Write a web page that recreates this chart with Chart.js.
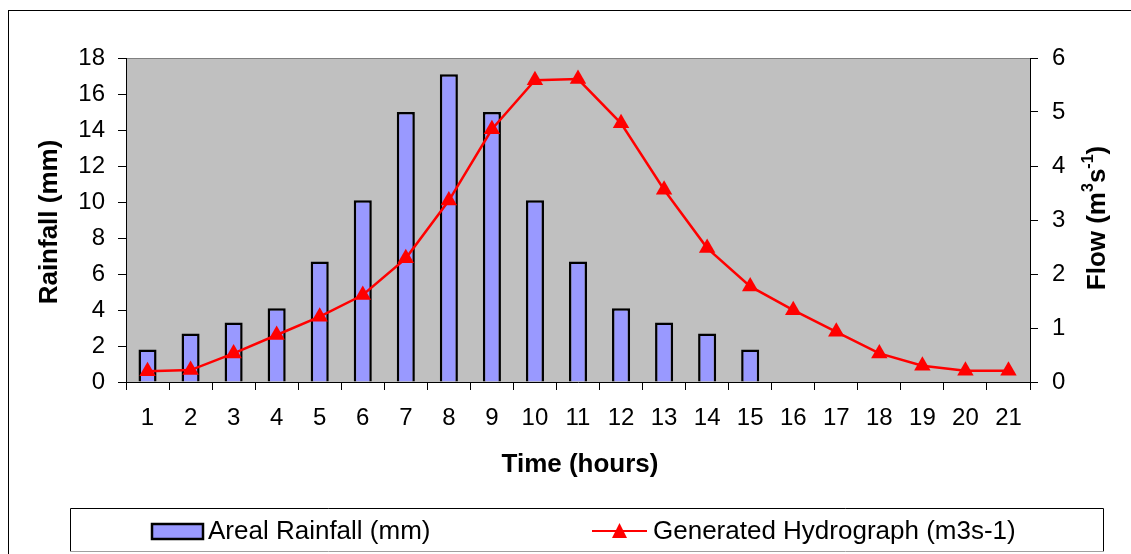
<!DOCTYPE html>
<html>
<head>
<meta charset="utf-8">
<script src="https://cdn.jsdelivr.net/npm/chart.js@4.4.1/dist/chart.umd.min.js"></script>
<style>
  html, body { margin: 0; padding: 0; background: #ffffff; }
  #wrap { width: 1131px; height: 554px; }
</style>
</head>
<body>
<div id="wrap"><canvas id="hydroChart" width="1131" height="554"></canvas></div>
<script>
// data
const hours = ["1","2","3","4","5","6","7","8","9","10","11","12","13","14","15","16","17","18","19","20","21"];
const rainfall = [1.8, 2.7, 3.3, 4.1, 6.7, 10.1, 15, 17.1, 15, 10.1, 6.7, 4.1, 3.3, 2.7, 1.8, null, null, null, null, null, null];
const flow = [0.2, 0.22, 0.53, 0.87, 1.21, 1.61, 2.29, 3.36, 4.68, 5.59, 5.61, 4.79, 3.56, 2.48, 1.77, 1.33, 0.93, 0.53, 0.3, 0.21, 0.21];
const rainTicks = [0, 2, 4, 6, 8, 10, 12, 14, 16, 18];
const flowTicks = [0, 1, 2, 3, 4, 5, 6];

const FONT = "'Liberation Sans', Arial, sans-serif";

// background, frame, titles and legend
const decor = {
  id: "decor",
  beforeDraw(chart) {
    const { ctx, chartArea: a } = chart;
    ctx.save();
    ctx.fillStyle = "#ffffff";
    ctx.fillRect(0, 0, chart.width, chart.height);
    // outer frame
    ctx.strokeStyle = "#000000";
    ctx.lineWidth = 1;
    ctx.strokeRect(8.5, 10.5, chart.width + 5, chart.height + 5);
    // plot area
    ctx.fillStyle = "#c0c0c0";
    ctx.fillRect(a.left, a.top, a.right - a.left, a.bottom - a.top);
    ctx.strokeStyle = "#808080";
    ctx.beginPath();
    ctx.moveTo(a.left, a.top + 0.5);
    ctx.lineTo(a.right, a.top + 0.5);
    ctx.stroke();
    ctx.restore();
  },
  afterDraw(chart) {
    const { ctx, chartArea: a } = chart;
    const midY = (a.top + a.bottom) / 2;
    ctx.save();
    ctx.fillStyle = "#000000";
    ctx.textBaseline = "middle";
    ctx.textAlign = "center";
    ctx.font = "bold 26px " + FONT;
    ctx.fillText("Time (hours)", (a.left + a.right) / 2 + 2, 465);

    // left title
    ctx.save();
    ctx.translate(50, midY + 2);
    ctx.rotate(-Math.PI / 2);
    ctx.fillText("Rainfall (mm)", 0, 0);
    ctx.restore();

    // right title with superscripts
    ctx.save();
    ctx.translate(1098, midY - 2);
    ctx.rotate(-Math.PI / 2);
    const parts = [["Flow (m", false], ["3", true], ["s", false], ["-1", true], [")", false]];
    const big = "bold 26px " + FONT, small = "bold 16px " + FONT;
    let total = 0;
    parts.forEach(p => { ctx.font = p[1] ? small : big; total += ctx.measureText(p[0]).width; });
    let x = -total / 2;
    ctx.textAlign = "left";
    parts.forEach(p => {
      ctx.font = p[1] ? small : big;
      ctx.fillText(p[0], x, p[1] ? -9 : 0);
      x += ctx.measureText(p[0]).width;
    });
    ctx.restore();

    // legend
    ctx.lineWidth = 1;
    ctx.strokeStyle = "#000000";
    ctx.beginPath();
    ctx.moveTo(70.5, 552);
    ctx.lineTo(70.5, 508.5);
    ctx.lineTo(1103.5, 508.5);
    ctx.lineTo(1103.5, 552);
    ctx.stroke();
    ctx.strokeStyle = "#a0a0a0";
    ctx.beginPath();
    ctx.moveTo(70, 551.5);
    ctx.lineTo(1104, 551.5);
    ctx.stroke();

    ctx.fillStyle = "#9999ff";
    ctx.fillRect(152, 524, 51, 15);
    ctx.strokeStyle = "#000000";
    ctx.lineWidth = 2.5;
    ctx.strokeRect(152, 524, 51, 15);
    ctx.strokeStyle = "#ff0000";
    ctx.lineWidth = 2;
    ctx.beginPath();
    ctx.moveTo(592, 531);
    ctx.lineTo(647, 531);
    ctx.stroke();
    ctx.fillStyle = "#ff0000";
    ctx.beginPath();
    ctx.moveTo(619.5, 523);
    ctx.lineTo(627, 538);
    ctx.lineTo(612, 538);
    ctx.closePath();
    ctx.fill();
    ctx.fillStyle = "#000000";
    ctx.font = "26px " + FONT;
    ctx.textAlign = "left";
    ctx.fillText(chart.data.datasets[1].label, 208, 532);
    ctx.fillText(chart.data.datasets[0].label, 653, 532);
    ctx.restore();
  }
};

const ctx = document.getElementById("hydroChart").getContext("2d");
new Chart(ctx, {
  data: {
    labels: hours,
    datasets: [
      {
        type: "line",
        label: "Generated Hydrograph (m3s-1)",
        data: flow,
        yAxisID: "y1",
        order: 0,
        borderColor: "#ff0000",
        backgroundColor: "#ff0000",
        borderWidth: 2.5,
        pointStyle: "triangle",
        pointRadius: 9.5,
        pointBorderWidth: 0,
        tension: 0
      },
      {
        type: "bar",
        label: "Areal Rainfall (mm)",
        data: rainfall,
        yAxisID: "y",
        order: 1,
        backgroundColor: "#9999ff",
        borderColor: "#000000",
        borderWidth: 2.5,
        barPercentage: 0.42,
        categoryPercentage: 1
      }
    ]
  },
  options: {
    responsive: false,
    animation: false,
    layout: { padding: { top: 58, left: 0, right: 0, bottom: 0 } },
    plugins: { legend: { display: false }, tooltip: { enabled: false } },
    scales: {
      x: {
        offset: true,
        afterFit: s => { s.height = 172; },
        grid: { offset: true, drawOnChartArea: false, tickLength: 8, color: "#000000" },
        border: { color: "#000000", width: 1 },
        ticks: { color: "#000000", font: { family: FONT, size: 24 }, padding: 14, maxRotation: 0 }
      },
      y: {
        position: "left",
        min: 0, max: 18,
        afterFit: s => { s.width = 126; },
        afterBuildTicks: s => { s.ticks = rainTicks.map(v => ({ value: v })); },
        grid: { drawOnChartArea: false, tickLength: 8, color: "#000000" },
        border: { color: "#000000", width: 1 },
        ticks: { color: "#000000", font: { family: FONT, size: 24 }, padding: 13 }
      },
      y1: {
        position: "right",
        min: 0, max: 6,
        afterFit: s => { s.width = 101; },
        afterBuildTicks: s => { s.ticks = flowTicks.map(v => ({ value: v })); },
        grid: { drawOnChartArea: false, tickLength: 8, color: "#000000" },
        border: { color: "#000000", width: 1 },
        ticks: { color: "#000000", font: { family: FONT, size: 24 }, padding: 14 }
      }
    }
  },
  plugins: [decor]
});
</script>
</body>
</html>
